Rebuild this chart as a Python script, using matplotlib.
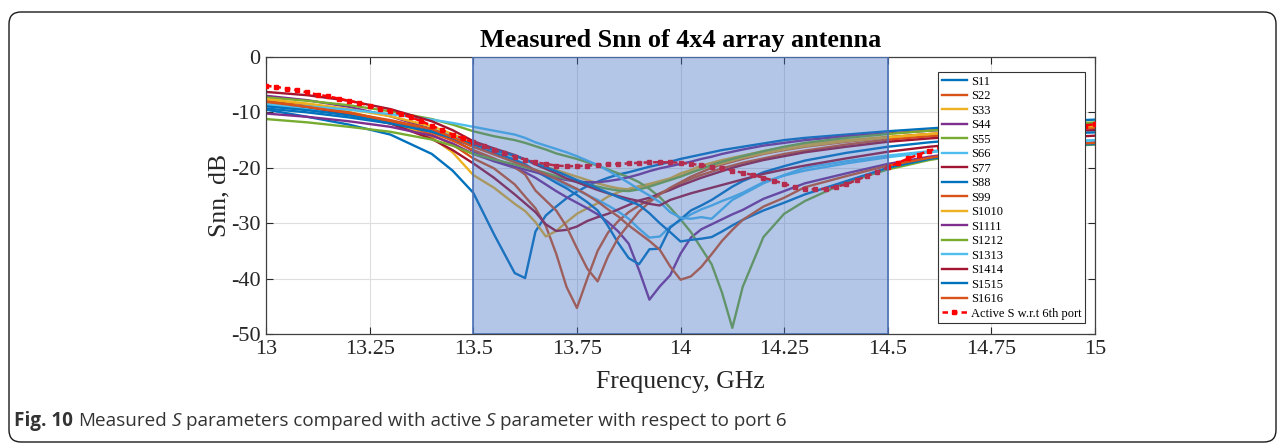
"""Measured Snn of a 4x4 array antenna, with the active S parameter of port 6."""

import matplotlib
matplotlib.use('Agg')
import matplotlib.pyplot as plt
from matplotlib.patches import FancyBboxPatch
from matplotlib.transforms import IdentityTransform
from matplotlib.colors import to_rgba

# frequency grid of the measured curves (GHz)
freq = [13.0, 13.1, 13.2, 13.3, 13.4, 13.45, 13.5, 13.55, 13.6, 13.625, 13.65,
        13.675, 13.7, 13.725, 13.75, 13.775, 13.8, 13.825, 13.85, 13.875, 13.9,
        13.925, 13.95, 13.975, 14.0, 14.025, 14.05, 14.075, 14.1, 14.125, 14.15,
        14.2, 14.25, 14.3, 14.4, 14.5, 14.6, 14.7, 14.8, 14.9, 15.0]

s11 = [-9.5, -10.8, -12.2, -14.0, -17.5, -20.5, -24.5, -32.0, -39.0, -39.9, -31.5,
       -28.6, -27.0, -25.5, -24.3, -23.3, -22.5, -21.8, -21.2, -20.8, -20.3,
       -19.8, -19.4, -18.9, -18.4, -18.0, -17.6, -17.2, -16.8, -16.5, -16.2,
       -15.6, -15.0, -14.6, -14.0, -13.4, -12.9, -12.4, -12.0, -11.6, -11.3]
s22 = [-8.3, -9.3, -10.5, -12.0, -14.0, -15.8, -18.3, -20.1, -23.0, -25.2, -27.3,
       -30.5, -35.5, -41.5, -45.3, -40.0, -35.0, -31.7, -29.6, -28.0, -26.8,
       -25.8, -24.6, -23.8, -22.8, -22.0, -21.3, -20.7, -20.1, -19.6, -19.1,
       -18.3, -17.5, -16.9, -15.8, -14.9, -14.3, -13.8, -13.4, -13.1, -12.8]
s33 = [-7.8, -8.7, -9.9, -11.6, -14.5, -17.2, -21.3, -23.6, -26.5, -27.8, -29.8,
       -32.4, -31.4, -29.8, -28.3, -27.3, -26.4, -25.2, -24.4, -23.8, -23.3,
       -22.9, -22.4, -21.9, -21.0, -20.4, -19.6, -19.1, -18.6, -18.2, -17.8,
       -17.0, -16.3, -15.7, -15.0, -14.4, -13.9, -13.5, -13.2, -12.9, -12.6]
s44 = [-7.0, -7.8, -9.0, -10.7, -13.0, -14.8, -17.0, -18.8, -20.0, -20.8, -21.8,
       -23.0, -24.2, -25.3, -26.3, -27.3, -28.4, -29.8, -31.5, -33.7, -38.5,
       -43.8, -41.4, -39.4, -35.5, -32.6, -31.1, -30.2, -29.3, -28.4, -27.6,
       -25.6, -24.2, -22.8, -21.0, -19.3, -18.0, -17.0, -16.3, -15.8, -15.4]
s55 = [-7.3, -7.9, -8.7, -9.8, -11.2, -12.2, -13.4, -14.3, -15.0, -15.5, -16.1,
       -16.7, -17.4, -17.9, -18.4, -19.0, -19.6, -20.3, -21.0, -21.7, -22.6,
       -23.8, -25.3, -27.2, -29.3, -31.6, -34.5, -37.4, -42.5, -48.9, -41.5,
       -32.5, -28.3, -26.0, -22.6, -20.3, -18.6, -17.4, -16.7, -16.2, -15.8]
s66 = [-8.6, -9.4, -10.3, -11.5, -13.0, -14.1, -15.5, -17.0, -18.5, -19.3, -20.5,
       -21.3, -22.2, -23.2, -24.0, -24.9, -25.8, -26.8, -27.9, -29.2, -31.0,
       -32.6, -32.4, -30.6, -29.5, -28.4, -27.5, -26.8, -26.0, -25.3, -24.5,
       -22.6, -21.4, -20.5, -19.2, -18.1, -17.2, -16.5, -16.0, -15.5, -15.0]
s77 = [-8.0, -9.0, -10.3, -12.0, -14.8, -16.8, -19.2, -21.8, -24.8, -26.4, -28.0,
       -30.2, -31.4, -31.2, -30.6, -29.6, -28.9, -28.3, -27.5, -26.7, -25.9,
       -25.4, -24.7, -24.0, -23.2, -22.5, -21.8, -21.2, -20.6, -20.0, -19.5,
       -18.6, -17.9, -17.2, -16.2, -15.3, -14.7, -14.2, -13.8, -13.5, -13.2]
s88 = [-8.9, -9.6, -10.5, -11.8, -13.3, -14.6, -16.2, -17.3, -18.6, -19.4, -20.6,
       -21.6, -22.7, -23.7, -24.9, -26.2, -27.7, -30.5, -33.6, -36.3, -37.4,
       -34.7, -34.6, -30.8, -29.3, -27.7, -26.8, -25.8, -24.6, -23.4, -22.4,
       -20.8, -19.7, -18.7, -17.3, -16.2, -15.4, -14.8, -14.3, -13.9, -13.6]
s99 = [-8.0, -8.9, -10.0, -11.6, -13.6, -15.1, -16.8, -18.3, -19.9, -21.2, -24.1,
       -25.9, -27.7, -30.6, -34.5, -38.2, -40.5, -36.0, -32.6, -30.2, -27.9,
       -26.2, -24.8, -23.6, -22.6, -21.6, -20.8, -20.0, -19.4, -18.9, -18.4,
       -17.5, -16.8, -16.2, -15.3, -14.5, -13.9, -13.5, -13.1, -12.8, -12.5]
s1010 = [-7.6, -8.4, -9.4, -10.7, -12.5, -13.9, -15.6, -16.8, -17.9, -18.5, -19.2,
         -19.8, -20.4, -21.0, -21.6, -22.2, -22.8, -23.3, -23.7, -23.9, -23.7,
         -23.2, -22.6, -22.0, -21.4, -20.8, -20.2, -19.7, -19.2, -18.7, -18.2,
         -17.4, -16.7, -16.1, -15.2, -14.5, -13.9, -13.4, -13.0, -12.7, -12.4]
s1111 = [-10.2, -10.8, -11.6, -12.6, -14.2, -15.6, -17.5, -18.8, -19.8, -20.3, -20.8,
         -21.3, -21.8, -22.2, -22.5, -22.6, -22.6, -22.4, -22.1, -21.7, -21.2,
         -20.6, -20.1, -19.7, -19.3, -18.9, -18.4, -18.0, -17.5, -17.1, -16.7,
         -16.0, -15.5, -15.0, -14.3, -13.8, -13.3, -12.9, -12.6, -12.3, -12.0]
s1212 = [-11.2, -11.8, -12.6, -13.5, -14.9, -16.0, -17.5, -18.5, -19.4, -19.9, -20.4,
         -20.9, -21.5, -22.0, -22.5, -23.0, -23.4, -23.8, -24.1, -24.2, -23.9,
         -23.4, -22.8, -22.2, -21.6, -20.9, -20.2, -19.5, -18.9, -18.4, -17.9,
         -17.0, -16.2, -15.5, -14.6, -13.9, -13.3, -12.8, -12.4, -12.1, -11.8]
s1313 = [-8.4, -8.9, -9.5, -10.3, -11.3, -11.9, -12.6, -13.3, -14.0, -14.6, -15.4,
         -16.0, -16.6, -17.2, -17.9, -18.7, -19.5, -20.5, -21.6, -22.7, -23.9,
         -25.0, -26.2, -28.0, -29.0, -29.2, -28.9, -29.2, -27.5, -25.8, -24.8,
         -22.8, -21.3, -20.0, -18.8, -17.8, -17.0, -16.4, -15.9, -15.4, -15.0]
s1414 = [-6.3, -6.9, -7.9, -9.4, -11.6, -13.2, -15.2, -16.5, -17.7, -18.5, -19.4,
         -20.2, -21.0, -21.9, -22.6, -23.3, -24.0, -24.6, -25.1, -25.6, -26.0,
         -26.5, -26.8, -25.8, -25.2, -24.6, -24.1, -23.6, -23.1, -22.6, -22.1,
         -21.1, -20.3, -19.6, -18.3, -17.1, -16.2, -15.5, -15.0, -14.6, -14.2]
s1515 = [-9.3, -10.0, -10.9, -12.0, -13.5, -14.6, -15.8, -16.8, -17.8, -18.5, -19.2,
         -19.9, -20.6, -21.4, -22.2, -22.9, -23.7, -24.5, -25.3, -26.0, -26.7,
         -28.2, -30.0, -31.6, -33.3, -33.0, -32.8, -32.5, -31.5, -30.4, -29.4,
         -27.7, -26.3, -24.8, -22.4, -20.0, -18.4, -17.3, -16.6, -16.1, -15.7]
s1616 = [-8.1, -9.0, -10.1, -11.4, -13.0, -14.5, -16.2, -17.6, -19.0, -19.6, -20.4,
         -21.2, -22.0, -22.9, -23.8, -24.9, -26.1, -27.5, -28.8, -30.4, -31.8,
         -33.2, -34.8, -37.8, -40.2, -39.6, -37.9, -35.6, -33.2, -31.2, -29.4,
         -27.0, -25.4, -23.5, -21.5, -19.6, -18.2, -17.1, -16.4, -15.9, -15.5]

labels = ['S11', 'S22', 'S33', 'S44', 'S55', 'S66', 'S77', 'S88',
          'S99', 'S1010', 'S1111', 'S1212', 'S1313', 'S1414', 'S1515', 'S1616']

# active S parameter w.r.t. port 6
active_freq = [13.0, 13.025, 13.05, 13.075, 13.1, 13.125, 13.15, 13.175, 13.2, 13.225,
               13.25, 13.275, 13.3, 13.325, 13.35, 13.375, 13.4, 13.425, 13.45, 13.475,
               13.5, 13.525, 13.55, 13.575, 13.6, 13.625, 13.65, 13.675, 13.7, 13.725,
               13.75, 13.775, 13.8, 13.825, 13.85, 13.875, 13.9, 13.925, 13.95, 13.975,
               14.0, 14.025, 14.05, 14.075, 14.1, 14.125, 14.15, 14.175, 14.2, 14.225,
               14.25, 14.275, 14.3, 14.325, 14.35, 14.375, 14.4, 14.425, 14.45, 14.475,
               14.5, 14.525, 14.55, 14.575, 14.6, 14.625, 14.7, 14.8, 14.9, 14.975, 15.0]
active_s = [-5.2, -5.4, -5.7, -6.0, -6.4, -6.8, -7.1, -7.5, -7.9, -8.3,
            -8.8, -9.3, -9.8, -10.3, -10.9, -11.6, -12.4, -13.2, -14.0, -14.7,
            -15.4, -16.1, -16.8, -17.4, -18.0, -18.5, -19.0, -19.3, -19.6, -19.7,
            -19.7, -19.6, -19.5, -19.4, -19.3, -19.2, -19.1, -19.0, -19.0, -19.0,
            -19.1, -19.3, -19.5, -19.8, -20.1, -20.5, -20.9, -21.3, -21.8, -22.3,
            -22.9, -23.4, -23.8, -23.9, -23.8, -23.4, -23.0, -22.2, -21.5, -20.7,
            -19.9, -19.1, -18.3, -17.6, -16.9, -16.4, -15.4, -14.5, -13.4, -12.4, -12.1]

band = (13.5, 14.5)
x_ticks = [13, 13.25, 13.5, 13.75, 14, 14.25, 14.5, 14.75, 15]
y_ticks = [0, -10, -20, -30, -40, -50]

MATLAB_COLORS = ['#0072BD', '#D95319', '#EDB120', '#7E2F8E',
                 '#77AC30', '#4DBEEE', '#A2142F']
SERIF = 'Liberation Serif'

plt.rcParams['axes.unicode_minus'] = False


def draw_caption(fig, x, y):
    """Caption written piece by piece (bold / italic parts)."""
    renderer = fig.canvas.get_renderer()
    kw = dict(transform=IdentityTransform(), fontsize=13.6, family='Open Sans',
              va='center', ha='left', color='#333333')
    probe_a = fig.text(0, 0, 'x x', **kw)
    probe_b = fig.text(0, 0, 'xx', **kw)
    space = (probe_a.get_window_extent(renderer).width
             - probe_b.get_window_extent(renderer).width)
    probe_a.remove()
    probe_b.remove()
    pieces = [('Fig. 10', 'bold', 'normal'),
              ('Measured', 'normal', 'normal'),
              ('S', 'normal', 'italic'),
              ('parameters compared with active', 'normal', 'normal'),
              ('S', 'normal', 'italic'),
              ('parameter with respect to port 6', 'normal', 'normal')]
    for text, weight, style in pieces:
        t = fig.text(x, y, text, weight=weight, style=style, **kw)
        x = t.get_window_extent(renderer).x1 + space


def plot_snn(output_path='out.png'):
    fig = plt.figure(figsize=(12.84, 4.44), dpi=100)
    ax = fig.add_axes([0.2072, 0.2477, 0.6456, 0.6239])

    curves = [s11, s22, s33, s44, s55, s66, s77, s88,
              s99, s1010, s1111, s1212, s1313, s1414, s1515, s1616]
    for i, (vals, lab) in enumerate(zip(curves, labels)):
        ax.plot(freq, vals, color=MATLAB_COLORS[i % 7], lw=1.7, label=lab, zorder=2)

    ax.plot(active_freq, active_s, color='red', ls='--', dashes=(2.2, 1.6), lw=1.8,
            marker='s', ms=3, label='Active S w.r.t 6th port', zorder=3)

    # shaded band drawn on top of the curves, semi transparent
    ax.axvspan(band[0], band[1], facecolor=to_rgba('#4472C4', 0.4),
               edgecolor='#4a6fb5', lw=1.2, zorder=4)

    ax.set_xlim(13, 15)
    ax.set_ylim(-50, 0)
    ax.set_xticks(x_ticks)
    ax.set_xticklabels([f'{v:g}' for v in x_ticks])
    ax.set_yticks(y_ticks)
    ax.grid(True, color='#dedede', lw=0.8)
    ax.set_axisbelow(True)
    ax.tick_params(direction='in', top=True, right=True, length=5, width=0.8,
                   labelsize=16, colors='#262626', pad=4)
    for lab in ax.get_xticklabels() + ax.get_yticklabels():
        lab.set_family(SERIF)
    for sp in ax.spines.values():
        sp.set_color('#404040')
        sp.set_linewidth(0.9)

    ax.set_xlabel('Frequency, GHz', family=SERIF, fontsize=18.5, color='#262626', labelpad=9)
    ax.set_ylabel('Snn, dB', family=SERIF, fontsize=18.5, color='#262626', labelpad=0)
    ax.set_title('Measured Snn of 4x4 array antenna', family=SERIF, fontsize=18.8,
                 weight='bold', pad=7.5)

    leg = ax.legend(loc='upper right', bbox_to_anchor=(0.988, 0.946), borderaxespad=0,
                    prop={'family': SERIF, 'size': 9}, handlelength=2.0,
                    handletextpad=0.3, labelspacing=0.2, borderpad=0.3,
                    fancybox=False, framealpha=1, edgecolor='#333333')
    leg.get_frame().set_linewidth(0.8)
    leg.set_zorder(6)

    # rounded frame around figure + caption
    frame = FancyBboxPatch((9, 2), 1267, 430, boxstyle='round,pad=0,rounding_size=12',
                           transform=IdentityTransform(), fill=False,
                           edgecolor='#1a1a1a', lw=1.0)
    fig.patches.append(frame)
    draw_caption(fig, 14, 444 - 421)

    fig.savefig(output_path, dpi=100)
    plt.close(fig)
    print(f'Plot saved to {output_path}')


if __name__ == '__main__':
    plot_snn()
